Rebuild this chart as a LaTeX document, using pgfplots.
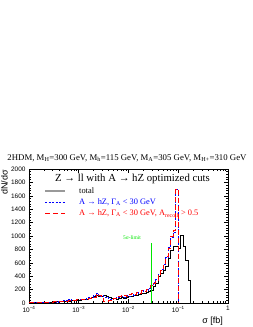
\documentclass[border=0pt]{standalone}
\usepackage{pgfplots}
\usepackage{pgfplotstable}
\pgfplotsset{compat=1.18}
\usepackage{fontspec}
\setmainfont{Liberation Serif}
\newfontfamily\hel{Liberation Sans}
\definecolor{rblue}{RGB}{0,0,255}
\definecolor{rred}{RGB}{255,0,0}
\definecolor{rgreen}{RGB}{0,230,0}

\pgfplotstableread{
lx blk blu red
-4.00 5 3 4
-3.95 3 6 2
-3.90 6 4 5
-3.85 4 8 6
-3.80 8 5 7
-3.75 6 10 8
-3.70 10 8 12
-3.65 8 12 10
-3.60 12 15 14
-3.55 14 12 16
-3.50 16 20 18
-3.45 18 15 22
-3.40 20 25 20
-3.35 22 20 25
-3.30 25 35 28
-3.25 28 45 30
-3.20 30 60 35
-3.15 35 40 40
-3.10 38 45 42
-3.05 40 50 48
-3.00 45 55 50
-2.95 50 60 55
-2.90 55 50 60
-2.85 60 70 55
-2.80 70 80 75
-2.75 80 90 85
-2.70 95 120 90
-2.65 110 150 130
-2.60 100 100 110
-2.55 105 110 70
-2.50 120 90 25
-2.45 100 80 20
-2.40 80 60 40
-2.35 70 55 60
-2.30 65 70 75
-2.25 60 80 70
-2.20 70 90 100
-2.15 80 100 110
-2.10 75 90 120
-2.05 90 110 100
-2.00 95 100 130
-1.95 100 130 140
-1.90 110 120 125
-1.85 120 150 160
-1.80 125 160 150
-1.75 140 170 190
-1.70 150 190 180
-1.65 160 180 210
-1.60 175 220 230
-1.55 190 260 260
-1.50 245 310 300
-1.45 300 350 340
-1.40 390 430 420
-1.35 440 500 490
-1.30 480 580 560
-1.25 550 680 690
-1.20 670 830 820
-1.15 790 980 1000
-1.10 840 1060 1080
-1.05 840 1700 1700
-1.00 820 0 0
-0.95 1010 0 0
-0.90 840 0 0
-0.85 640 0 0
-0.80 340 0 0
-0.75 0 0 0
0.00 0 0 0
}\histdata

\begin{document}
\begin{tikzpicture}
\path[use as bounding box] (0,0) rectangle (253bp,327bp);
\begin{axis}[
  at={(29bp,24bp)}, anchor=south west,
  scale only axis, width=199bp, height=134bp,
  xmode=log, xmin=1e-4, xmax=1,
  ymin=0, ymax=2000,
  ytick={0,200,...,2000}, minor y tick num=4,
  xtick={1e-4,1e-3,1e-2,1e-1,1},
  xticklabels={10\textsuperscript{−4},10\textsuperscript{−3},10\textsuperscript{−2},10\textsuperscript{−1},1},
  /pgf/number format/assume math mode=true,
  /pgf/number format/1000 sep={},
  ticklabel style={font=\hel\fontsize{6.5}{7}\selectfont},
  tick align=inside,
  major tick length=4bp, minor tick length=2bp,
  axis line style={line width=0.9bp},
  every tick/.style={black, line width=0.5bp},
  clip=true,
]
\addplot[const plot mark left, black, line width=0.8bp] table[x expr={10^(\thisrow{lx})}, y=blk] {\histdata};
\addplot[const plot mark left, rblue, line width=0.8bp, dash pattern=on 2bp off 1.5bp] table[x expr={10^(\thisrow{lx})}, y=blu] {\histdata};
\addplot[const plot mark left, rred, line width=0.8bp, dash pattern=on 5bp off 3bp] table[x expr={10^(\thisrow{lx})}, y=red] {\histdata};
\addplot[color=rgreen, mark=none, line width=1.2bp] coordinates {(0.0292,0) (0.0292,900)};
\node[rgreen, font=\fontsize{5.5}{6}\selectfont] at (axis cs:0.0118,975) {5σ-limit};
\end{axis}
% title
\node[font=\fontsize{8.8}{9}\selectfont, anchor=center] at (127bp,169bp) {2HDM, M\textsubscript{H}=300 GeV, M\textsubscript{h}=115 GeV, M\textsubscript{A}=305 GeV, M\textsubscript{H+}=310 GeV};
% legend
\node[font=\fontsize{10.8}{11}\selectfont, anchor=center] at (132.5bp,148bp) {Z → ll with A → hZ optimized cuts};
\draw[black!40, line width=1.5bp] (45bp,136bp) -- (65bp,136bp);
\node[font=\fontsize{8.4}{9}\selectfont, anchor=west, inner sep=0pt] at (79bp,136bp) {total};
\draw[rblue, line width=0.8bp, dash pattern=on 2bp off 1.5bp] (45bp,125bp) -- (65bp,125bp);
\node[rblue, font=\fontsize{8.4}{9}\selectfont, anchor=west, inner sep=0pt] at (79bp,125bp) {A → hZ, Γ\textsubscript{A} < 30 GeV};
\draw[rred, line width=0.8bp, dash pattern=on 5bp off 3bp] (45bp,113.5bp) -- (65bp,113.5bp);
\node[rred, font=\fontsize{8.4}{9}\selectfont, anchor=west, inner sep=0pt] at (79bp,113.5bp) {A → hZ, Γ\textsubscript{A} < 30 GeV, A\textsubscript{recoil} > 0.5};
% axis labels
\node[font=\hel\fontsize{9}{10}\selectfont, rotate=90, anchor=north east, inner sep=0pt] at (1bp,157bp) {dN/dσ};
\node[font=\hel\fontsize{9}{10}\selectfont, anchor=base east, inner sep=0pt] at (223bp,4bp) {σ [fb]};
\end{tikzpicture}
\end{document}
